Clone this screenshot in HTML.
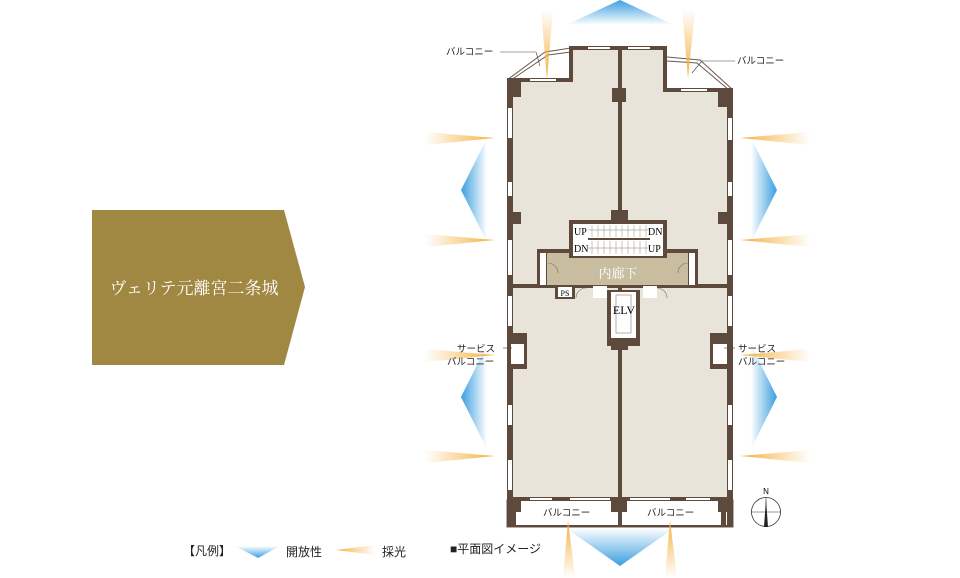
<!DOCTYPE html>
<html><head><meta charset="utf-8"><style>
html,body{margin:0;padding:0;background:#fff;}
svg{display:block;}
text{font-family:"Liberation Serif","Noto Serif CJK SC",serif;}
.s{font-family:"Liberation Sans","Noto Sans CJK JP",sans-serif;}
</style></head><body>
<svg width="960" height="578" viewBox="0 0 960 578" xmlns="http://www.w3.org/2000/svg">
<defs>
<linearGradient id="bu" x1="0" y1="0" x2="0" y2="1"><stop offset="0" stop-color="#3a9ee0"/><stop offset="1" stop-color="#3a9ee0" stop-opacity="0"/></linearGradient>
<linearGradient id="bd" x1="0" y1="1" x2="0" y2="0"><stop offset="0" stop-color="#3a9ee0"/><stop offset="1" stop-color="#3a9ee0" stop-opacity="0"/></linearGradient>
<linearGradient id="bl" x1="0" y1="0" x2="1" y2="0"><stop offset="0" stop-color="#3a9ee0"/><stop offset="1" stop-color="#3a9ee0" stop-opacity="0"/></linearGradient>
<linearGradient id="br" x1="1" y1="0" x2="0" y2="0"><stop offset="0" stop-color="#3a9ee0"/><stop offset="1" stop-color="#3a9ee0" stop-opacity="0"/></linearGradient>
<linearGradient id="ol" x1="0" y1="0" x2="1" y2="0"><stop offset="0" stop-color="#f5b040" stop-opacity="0"/><stop offset="1" stop-color="#f5b040"/></linearGradient>
<linearGradient id="or" x1="1" y1="0" x2="0" y2="0"><stop offset="0" stop-color="#f5b040" stop-opacity="0"/><stop offset="1" stop-color="#f5b040"/></linearGradient>
<linearGradient id="ot" x1="0" y1="0" x2="0" y2="1"><stop offset="0" stop-color="#f5b040" stop-opacity="0"/><stop offset="1" stop-color="#f5b040"/></linearGradient>
<linearGradient id="ob" x1="0" y1="1" x2="0" y2="0"><stop offset="0" stop-color="#f5b040" stop-opacity="0"/><stop offset="1" stop-color="#f5b040"/></linearGradient>
</defs>

<polygon points="92,210 284,210 305,287 284,365 92,365" fill="#a08742"/>
<text x="194" y="294" font-size="17" fill="#fff" text-anchor="middle">ヴェリテ元離宮二条城</text>

<polygon points="620,0 566,25 674,25" fill="url(#bu)"/>
<polygon points="620,566 566,528 674,528" fill="url(#bd)"/>
<polygon points="461,190 487,138 487,242" fill="url(#bl)"/>
<polygon points="461,397 487,345 487,449" fill="url(#bl)"/>
<polygon points="777,190 751,138 751,242" fill="url(#br)"/>
<polygon points="777,397 751,345 751,449" fill="url(#br)"/>
<polygon points="425,132 495,138 425,145" fill="url(#ol)"/>
<polygon points="425,234 495,240 425,247" fill="url(#ol)"/>
<polygon points="425,349 495,355 425,362" fill="url(#ol)"/>
<polygon points="425,450 495,456 425,463" fill="url(#ol)"/>
<polygon points="810,132 740,138 810,145" fill="url(#or)"/>
<polygon points="810,234 740,240 810,247" fill="url(#or)"/>
<polygon points="810,349 740,355 810,362" fill="url(#or)"/>
<polygon points="810,450 740,456 810,463" fill="url(#or)"/>

<rect x="510" y="50" width="218" height="450" fill="#e8e4d9"/>
<rect x="510" y="48" width="62" height="32" fill="#fff"/>
<rect x="665" y="48" width="66" height="42" fill="#fff"/>
<polyline points="507,80 545,52 571,48" fill="none" stroke="#6b5a4e" stroke-width="1"/>
<polyline points="511,80 548,55 571,52" fill="none" stroke="#6b5a4e" stroke-width="1"/>
<polyline points="733,90 700,60 667,57" fill="none" stroke="#6b5a4e" stroke-width="1"/>
<polyline points="729,90 697,63 667,61" fill="none" stroke="#6b5a4e" stroke-width="1"/>
<rect x="507" y="500" width="226" height="27" fill="#fff" stroke="#6b5a4e" stroke-width="1"/>

<g fill="#5e4a3c">
<rect x="507" y="80" width="6" height="447"/>
<rect x="727" y="90" width="6" height="437"/>
<rect x="507" y="78" width="66" height="4"/>
<rect x="569" y="46" width="4" height="36"/>
<rect x="569" y="46" width="98" height="4"/>
<rect x="663" y="46" width="4" height="46"/>
<rect x="663" y="88" width="70" height="4"/>
<rect x="618" y="46" width="4" height="481"/>
<rect x="507" y="497" width="226" height="4"/>
<rect x="507" y="525" width="226" height="2"/>
<rect x="507" y="80" width="14" height="17"/>
<rect x="718" y="90" width="15" height="17"/>
<rect x="612" y="88" width="14" height="14"/>
<rect x="507" y="212" width="14" height="12"/>
<rect x="718" y="212" width="15" height="12"/>
<rect x="611" y="210" width="17" height="14"/>
<rect x="611" y="338" width="17" height="12"/>
<rect x="507" y="500" width="14" height="12"/>
<rect x="718" y="500" width="15" height="12"/>
<rect x="611" y="500" width="16" height="12"/>
<rect x="511" y="512" width="5" height="15"/>
<rect x="721" y="512" width="5" height="15"/>
<rect x="507" y="284" width="226" height="4"/>
<rect x="507" y="333" width="20" height="36"/>
<rect x="710" y="333" width="23" height="36"/>
</g>
<rect x="511" y="344" width="13" height="20" fill="#fff"/>
<rect x="713" y="344" width="14" height="20" fill="#fff"/>
<g fill="#fff">
<rect x="508" y="108" width="4" height="30"/><rect x="508" y="182" width="4" height="14"/><rect x="508" y="240" width="4" height="35"/>
<rect x="508" y="296" width="4" height="30"/><rect x="508" y="405" width="4" height="20"/><rect x="508" y="460" width="4" height="30"/>
<rect x="728" y="118" width="4" height="22"/><rect x="728" y="182" width="4" height="14"/><rect x="728" y="240" width="4" height="35"/>
<rect x="728" y="296" width="4" height="30"/><rect x="728" y="405" width="4" height="20"/><rect x="728" y="460" width="4" height="30"/>
<rect x="530" y="79" width="26" height="2"/><rect x="588" y="47" width="22" height="2"/><rect x="628" y="47" width="22" height="2"/><rect x="681" y="89" width="26" height="2"/>
<rect x="530" y="498" width="22" height="2"/><rect x="570" y="498" width="40" height="2"/><rect x="630" y="498" width="40" height="2"/><rect x="686" y="498" width="24" height="2"/>
</g>

<!-- top/bottom orange light over balconies -->
<polygon points="541,10 553,10 547,80" fill="url(#ot)"/>
<polygon points="682,10 695,10 688,78" fill="url(#ot)"/>
<polygon points="568,520 563,578 575,578" fill="url(#ob)"/>
<polygon points="670,520 665,578 677,578" fill="url(#ob)"/>

<rect x="537" y="249" width="161" height="37" fill="#5e4a3c"/>
<rect x="547" y="253" width="141" height="32" fill="#c9bda0"/>
<rect x="540" y="253" width="6" height="32" fill="#fff"/>
<rect x="689" y="253" width="6" height="32" fill="#fff"/>
<rect x="555" y="285" width="20" height="14" fill="#5e4a3c"/>
<rect x="558" y="287" width="14" height="10" fill="#fff"/>
<text x="565" y="296" font-size="8" text-anchor="middle">PS</text>
<rect x="593" y="286" width="14" height="12" fill="#fff"/>
<rect x="643" y="286" width="14" height="12" fill="#fff"/>
<path d="M548,263 A10,10 0 0 1 558,273" fill="none" stroke="#7a6a5a" stroke-width="0.6"/>
<path d="M688,263 A10,10 0 0 0 678,273" fill="none" stroke="#7a6a5a" stroke-width="0.6"/>
<path d="M576,298 A10,10 0 0 1 586,288" fill="none" stroke="#7a6a5a" stroke-width="0.6"/>
<path d="M667,298 A10,10 0 0 0 657,288" fill="none" stroke="#7a6a5a" stroke-width="0.6"/>
<text x="618" y="278" font-size="13" fill="#fff" text-anchor="middle">内廊下</text>

<rect x="569" y="220" width="98" height="38" fill="#5e4a3c"/>
<rect x="573" y="224" width="90" height="32" fill="#fff"/>
<line x1="588" y1="239" x2="650" y2="239" stroke-width="2" stroke="#5e4a3c"/>
<g stroke="#8a7a6a" stroke-width="0.5">
<line x1="588" y1="230" x2="650" y2="230"/><line x1="588" y1="248" x2="650" y2="248"/>
</g>
<g stroke="#9a8a7a" stroke-width="0.5">
<line x1="592" y1="225" x2="592" y2="237"/><line x1="598" y1="225" x2="598" y2="237"/><line x1="604" y1="225" x2="604" y2="237"/><line x1="610" y1="225" x2="610" y2="237"/><line x1="616" y1="225" x2="616" y2="237"/><line x1="622" y1="225" x2="622" y2="237"/><line x1="628" y1="225" x2="628" y2="237"/><line x1="634" y1="225" x2="634" y2="237"/><line x1="640" y1="225" x2="640" y2="237"/><line x1="646" y1="225" x2="646" y2="237"/>
<line x1="592" y1="241" x2="592" y2="254"/><line x1="598" y1="241" x2="598" y2="254"/><line x1="604" y1="241" x2="604" y2="254"/><line x1="610" y1="241" x2="610" y2="254"/><line x1="616" y1="241" x2="616" y2="254"/><line x1="622" y1="241" x2="622" y2="254"/><line x1="628" y1="241" x2="628" y2="254"/><line x1="634" y1="241" x2="634" y2="254"/><line x1="640" y1="241" x2="640" y2="254"/><line x1="646" y1="241" x2="646" y2="254"/>
</g>
<text x="574" y="235" font-size="10">UP</text>
<text x="648" y="235" font-size="10">DN</text>
<text x="574" y="252" font-size="10">DN</text>
<text x="648" y="252" font-size="10">UP</text>

<rect x="607" y="290" width="33" height="56" fill="#5e4a3c"/>
<rect x="611" y="292" width="25" height="46" fill="#fff"/>
<rect x="616" y="295" width="15" height="38" fill="none" stroke="#8a7a6a" stroke-width="0.6"/>
<text x="624" y="314" font-size="12" text-anchor="middle">ELV</text>

<g font-size="9.5" fill="#222">
<text x="446" y="55" class="s">バルコニー</text>
<text x="737" y="64" class="s">バルコニー</text>
<text x="457" y="352" class="s">サービス</text>
<text x="447" y="365" class="s">バルコニー</text>
<text x="738" y="352" class="s">サービス</text>
<text x="738" y="365" class="s">バルコニー</text>
<text x="543" y="516" class="s">バルコニー</text>
<text x="647" y="516" class="s">バルコニー</text>
</g>
<line x1="500" y1="52" x2="536" y2="52" stroke="#444" stroke-width="0.6"/>
<line x1="536" y1="52" x2="540" y2="66" stroke="#444" stroke-width="0.6"/>
<line x1="735" y1="61" x2="702" y2="61" stroke="#444" stroke-width="0.6"/>
<line x1="702" y1="61" x2="692" y2="73" stroke="#444" stroke-width="0.6"/>
<line x1="503" y1="348" x2="512" y2="348" stroke="#444" stroke-width="0.6"/>
<line x1="735" y1="348" x2="724" y2="348" stroke="#444" stroke-width="0.6"/>

<circle cx="766" cy="512" r="14.5" fill="none" stroke="#333" stroke-width="0.8"/>
<line x1="751" y1="512" x2="781" y2="512" stroke="#333" stroke-width="0.6"/>
<line x1="766" y1="497" x2="766" y2="527" stroke="#333" stroke-width="0.6"/>
<polygon points="766,499 764,527 768,527" fill="#222"/>
<text x="766" y="494" font-size="8" class="s" text-anchor="middle">N</text>

<g font-size="12" fill="#222">
<text x="183" y="555" class="s">【凡例】</text>
<text x="286" y="556" class="s">開放性</text>
<text x="382" y="556" class="s">採光</text>
<text x="450" y="553" class="s">■平面図イメージ</text>
</g>
<polygon points="235,546 280,546 258,558" fill="url(#bd)"/>
<polygon points="336,550 375,545 375,555" fill="url(#or)"/>
</svg>
</body></html>
